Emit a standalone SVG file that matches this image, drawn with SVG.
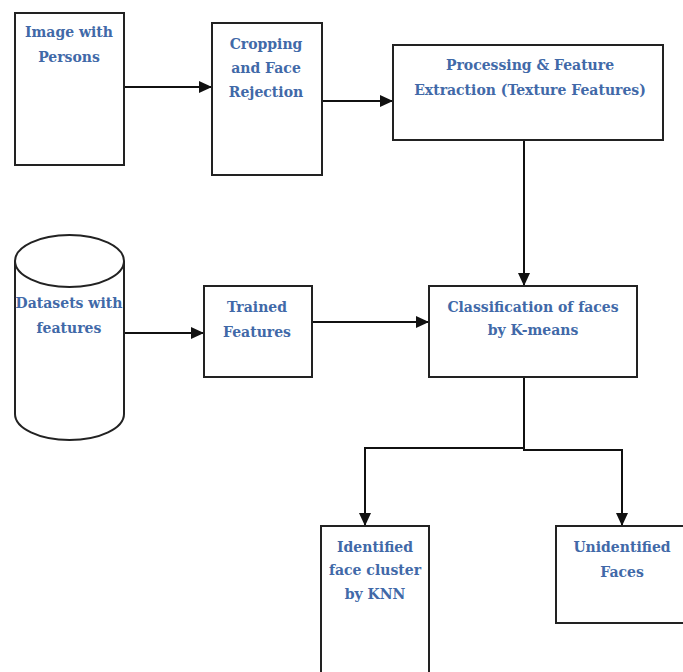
<svg xmlns="http://www.w3.org/2000/svg" width="683" height="672" viewBox="0 0 683 672">
<style>
.box{fill:#fff;stroke:#222;stroke-width:2}
.t{font-family:"DejaVu Serif","Liberation Serif",serif;font-weight:bold;font-size:14px;fill:#4169a8;text-anchor:middle}
.c{fill:none;stroke:#111;stroke-width:2}
</style>
<defs>
<marker id="ah" viewBox="0 0 13 12" refX="13" refY="6" markerWidth="13" markerHeight="12" markerUnits="userSpaceOnUse" orient="auto">
<path d="M0,0 L13,6 L0,12 Z" fill="#111"/>
</marker>
</defs>
<rect width="683" height="672" fill="#fff"/>
<g id="connectors">
<path class="c" d="M124,87 H212" marker-end="url(#ah)"/>
<path class="c" d="M322,101 H393" marker-end="url(#ah)"/>
<path class="c" d="M524,140 V286" marker-end="url(#ah)"/>
<path class="c" d="M124,333 H204" marker-end="url(#ah)"/>
<path class="c" d="M312,322 H429" marker-end="url(#ah)"/>
<path class="c" d="M524,377 V448 H365 V526" marker-end="url(#ah)"/>
<path class="c" d="M524,448 V450 H622 V526" marker-end="url(#ah)"/>
</g>
<g id="image">
<rect class="box" x="15" y="13" width="109" height="152"/>
<text class="t" x="69" y="37">Image with</text>
<text class="t" x="69" y="62">Persons</text>
</g>
<g id="cropping">
<rect class="box" x="212" y="23" width="110" height="152"/>
<text class="t" x="266" y="49">Cropping</text>
<text class="t" x="266" y="73">and Face</text>
<text class="t" x="266" y="97">Rejection</text>
</g>
<g id="processing">
<rect class="box" x="393" y="45" width="270" height="95"/>
<text class="t" x="530" y="70">Processing &amp; Feature</text>
<text class="t" x="530" y="95">Extraction (Texture Features)</text>
</g>
<g id="datasets">
<path class="box" d="M15,261 V414 A54.5,26 0 0 0 124,414 V261"/>
<ellipse class="box" cx="69.5" cy="261" rx="54.5" ry="26"/>
<text class="t" x="69" y="308">Datasets with</text>
<text class="t" x="69" y="333">features</text>
</g>
<g id="trained">
<rect class="box" x="204" y="286" width="108" height="91"/>
<text class="t" x="257" y="312">Trained</text>
<text class="t" x="257" y="337">Features</text>
</g>
<g id="classification">
<rect class="box" x="429" y="286" width="208" height="91"/>
<text class="t" x="533" y="312">Classification of faces</text>
<text class="t" x="533" y="335">by K-means</text>
</g>
<g id="identified">
<rect class="box" x="321" y="526" width="108" height="160"/>
<text class="t" x="375" y="552">Identified</text>
<text class="t" x="375" y="575">face cluster</text>
<text class="t" x="375" y="599">by KNN</text>
</g>
<g id="unidentified">
<rect class="box" x="556" y="526" width="140" height="97"/>
<text class="t" x="622" y="552">Unidentified</text>
<text class="t" x="622" y="577">Faces</text>
</g>
</svg>
